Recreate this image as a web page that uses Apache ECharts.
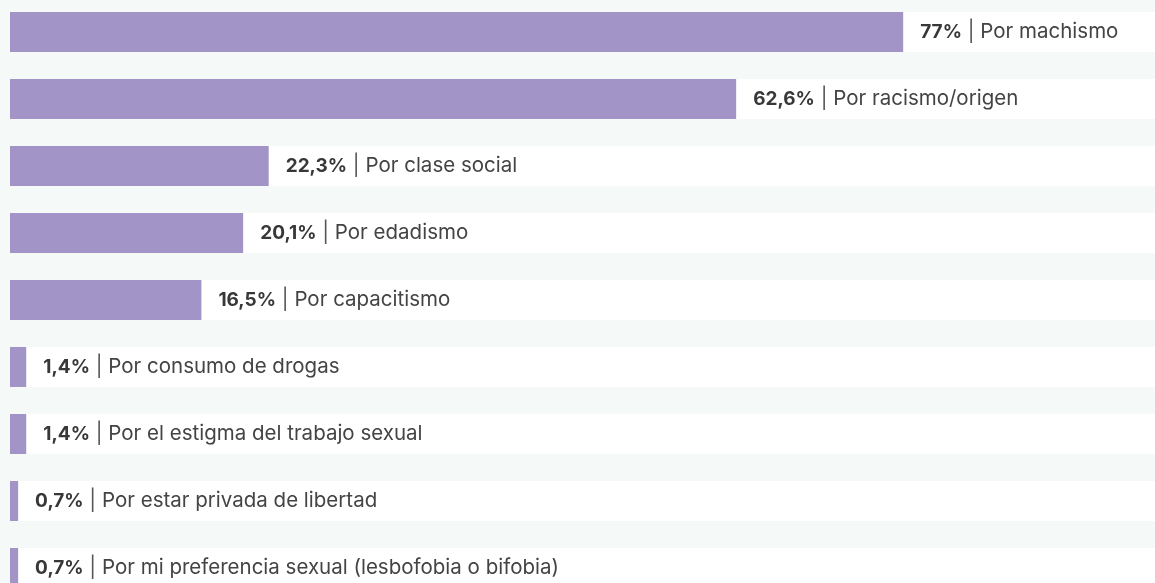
<!DOCTYPE html>
<html><head><meta charset="utf-8">
<script src="https://cdn.jsdelivr.net/npm/echarts@6/dist/echarts.min.js"></script>
<style>html,body{margin:0;padding:0;background:#f5f9f8;}#c{width:1155px;height:583px;}</style>
</head><body><div id="c"></div>
<script>
const categories = ["Por machismo","Por racismo/origen","Por clase social","Por edadismo","Por capacitismo","Por consumo de drogas","Por el estigma del trabajo sexual","Por estar privada de libertad","Por mi preferencia sexual (lesbofobia o bifobia)"];
const values = [77, 62.6, 22.3, 20.1, 16.5, 1.4, 1.4, 0.7, 0.7];

const chart = echarts.init(document.getElementById('c'));
chart.setOption({
  backgroundColor: '#f5f9f8',
  animation: false,
  grid: { left: 10, top: -1.5, width: 1160, height: 603, outerBoundsMode: 'none', containLabel: false },
  xAxis: { type: 'value', min: 0, max: 100, show: false },
  yAxis: { type: 'category', data: categories, inverse: true, show: false },
  series: [{
    type: 'bar',
    data: values,
    barWidth: 40,
    showBackground: true,
    backgroundStyle: { color: '#ffffff' },
    itemStyle: { color: '#a394c7' },
    label: {
      show: true,
      position: 'right',
      distance: 17,
      fontFamily: 'Inter',
      fontSize: 20.5,
      color: '#444',
      formatter: p => '{b|' + String(p.value).replace('.', ',') + '%} {s||} ' + p.name,
      rich: {
        b: { fontWeight: 'bold', fontSize: 19, fontFamily: 'Inter', color: '#383838' },
        s: { fontSize: 20.5, fontFamily: 'Inter', color: '#555' }
      }
    }
  }]
});
</script></body></html>
